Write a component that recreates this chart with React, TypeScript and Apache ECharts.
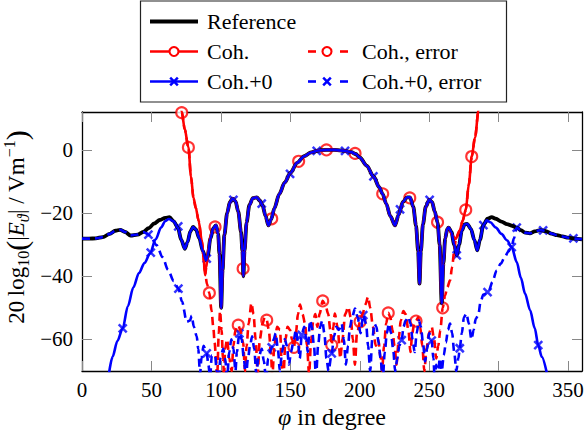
import React, { useEffect, useRef } from "react";
import * as echarts from "echarts";

const FONT = "Liberation Serif";

const xTicks = [0, 50, 100, 150, 200, 250, 300, 350];
const yTicks = [-60, -40, -20, 0];

// Reference (black) left part
const referenceLeft: number[][] = [
  [0, -28.1], [5, -28.1], [10, -28], [15, -27.6], [20, -26.6], [24, -25.6], [27.5, -25.3],
  [31, -26], [35, -27.1], [40, -26.8], [44, -26], [48, -24.8], [52, -23.3], [56, -22.2], [60, -21.5],
];

// Main lobe structure shared by Reference / Coh.+0 / Coh.
const mainLobe: number[][] = [
  [63, -21.3], [66, -22.6], [69, -24.6], [71.5, -28.5], [74, -31.3], [76, -29.2], [78, -25.8],
  [80, -24.4], [82, -25.2], [84.5, -28], [87, -32], [89.3, -35], [90.5, -33.5], [92.5, -28],
  [94.5, -24.8], [96.5, -23.9], [98, -26.5], [99, -33], [100.2, -50], [101.2, -38], [102.5, -27],
  [104.5, -20], [106.5, -16.5], [108.5, -15.4], [110.5, -16.2], [112.5, -19.5], [114.5, -26],
  [115.5, -32], [116.2, -40], [117, -32], [118.5, -23], [120.5, -17.5], [123, -15.3], [125.8, -15],
  [128, -16], [130, -17.6], [132.2, -21], [134.2, -23.9], [136.2, -22], [138.5, -18.5], [142, -14],
  [146, -10.3], [150, -7.3], [155, -4], [160, -2], [165, -0.8], [170, -0.2], [176, 0], [182, 0],
  [189, -0.3], [194, -0.7], [197, -1.3], [200, -2.4], [205, -5], [210, -8.5], [214, -11.8],
  [216.5, -14], [219, -17], [222, -21], [225.4, -23.9], [228, -20.5], [231, -16.5], [234, -15],
  [236.2, -15], [238.5, -18], [240.5, -24], [242, -32], [243, -42.3], [244, -32], [245.5, -23.5],
  [247.5, -18], [250, -15.8], [252, -16.5], [254, -19.5], [256, -23], [257.5, -30], [259, -48.6],
  [260.2, -36], [261.5, -28], [263, -25], [264, -24.6], [266, -26], [268, -30], [269.8, -33.4],
  [271.5, -30], [273.5, -25.5], [275.5, -23.6], [277.4, -23.4], [280, -25], [282.5, -28.5],
  [284.6, -31.8], [286.5, -28.5], [289, -23.8],
];

const referenceRight: number[][] = [
  [292, -21.8], [295, -21.3], [298, -21.8], [302, -22.7], [306, -23.5], [310, -24.1], [313, -24.6],
  [316, -25.4], [319, -26.2], [322.5, -26.4], [326, -25.8], [330, -25.4], [334, -25.7], [338, -26.5],
  [342, -27], [346, -27.4], [350, -27.8], [355, -28.1], [360, -28.3],
];

// Coh.+0 (blue solid)
const coh0Left: number[][] = [
  [19.5, -70.5], [22, -65.5], [25.5, -60.5], [29.3, -56.5], [33, -49.5], [37, -43.5], [41, -39],
  [45, -35.8], [49, -32.8], [53, -28.3], [57, -24.5], [60, -22.5], [62.5, -21.9],
];
const coh0Right: number[][] = [
  [291.4, -22.3], [294, -22.9], [298, -24.6], [302, -26.6], [306, -28.6], [309.4, -30.8],
  [313, -35.5], [316, -40.5], [319, -45.5], [322.6, -50.7], [326, -56.5], [328.5, -61.8],
  [331, -65.5], [334.6, -70.5],
];

// Coh. (red solid)
const cohLeft: number[][] = [
  [70.5, 16], [71.8, 12], [74, 6.5], [76.6, 0.8], [78.5, -8.5], [80.2, -15], [82, -18.5],
  [84, -22.5], [86.2, -28.6], [87.5, -34], [88.6, -39.7], [89.6, -37], [91, -31], [93, -26.5],
  [95.8, -24.4],
];
const cohRight: number[][] = [
  [266.5, -27], [269, -28.2], [272, -25.5], [274, -22.5], [276.3, -19], [278.5, -11],
  [280.6, -2.1], [283, 4], [285.5, 12.5], [287, 17],
];

// Coh., error (red dashed)
const cohError: number[][] = [
  [70.5, 16], [71.8, 12], [74, 6.5], [76.6, 0.8], [78.5, -8.5], [80.2, -15], [82, -18.5], [84, -22.5],
  [86.2, -28.6], [88.6, -38.5], [90, -42.5], [91.7, -45.3], [93.3, -51], [94.5, -56], [95.5, -61],
  [96.5, -66], [97.3, -72], [98.5, -58], [99.4, -51], [100.5, -57], [101.5, -66], [102.3, -72],
  [103, -63], [104.5, -60], [106, -66], [107.8, -70], [109, -62], [110.5, -57], [112.5, -55.5],
  [114, -57], [116, -61], [117.4, -70], [118.5, -62], [120, -55], [122, -48.5], [123.5, -52],
  [125, -60], [126.5, -71], [128, -60], [130, -55], [131.5, -53], [133, -53.9], [134.5, -57],
  [136, -64], [137, -72], [138.5, -62], [140.5, -56], [142.6, -57], [143.8, -68], [145, -72],
  [146.5, -60], [148, -56], [149.8, -57], [151.2, -60], [152.6, -62.5], [154, -58], [155.5, -52],
  [157, -49], [158.8, -52], [160.6, -55], [162, -62], [163.5, -71], [165, -60], [166.5, -54],
  [168, -52], [169.5, -56], [171, -52], [173.3, -47.8], [175.2, -49], [177.3, -52], [178.8, -57],
  [179.8, -61.8], [181, -56], [182, -51.8], [184, -56], [186, -66], [187.5, -60], [189.5, -52],
  [191.7, -49.7], [193.5, -53], [195, -60], [196.5, -68], [198, -58], [200.2, -54.4], [202, -52],
  [204, -49], [206, -46.5], [207.5, -50], [209.5, -56], [211.5, -62], [213.3, -60], [215, -66],
  [216, -70], [217.5, -62], [219, -55], [220.5, -51.6], [222, -53], [223.5, -57], [225, -62],
  [226.5, -68], [228, -60], [229.5, -54], [231.4, -51], [233, -52], [235, -57], [236.5, -64],
  [237.8, -58], [239.2, -55], [240.5, -54.2], [242, -53], [243.5, -56], [245, -62], [246.5, -70],
  [248, -63], [249.8, -58], [251.8, -56], [253.5, -60], [255, -66], [256.5, -62], [258, -57],
  [259.7, -50], [261.5, -46], [263, -43.5], [265, -41.3], [266.5, -37], [268, -32], [269.2, -28.1],
  [272, -25.5], [274, -22.5], [276.3, -19], [278.5, -11], [280.6, -2.1], [283, 4], [285.5, 12.5],
  [287, 17],
];

// Coh.+0, error (blue dashed) middle part
const coh0ErrorMid: number[][] = [
  [47.8, -26.8], [50, -28], [53.8, -30.2], [58, -34], [62, -38], [66, -41.5], [69.4, -43.9],
  [72, -48], [75.4, -54.4], [77.8, -54], [79, -52.5], [80.5, -56], [82.6, -59], [83.7, -63],
  [85, -71], [86, -66], [87.5, -62], [89.8, -64.4], [91, -68], [92.2, -72], [93.5, -65],
  [95.8, -65], [97, -70], [98.5, -73], [99.5, -66], [101.7, -63], [103, -66], [104.5, -72],
  [106, -64], [107.5, -60], [109, -63], [110.5, -70], [111.5, -64], [113.3, -58.1], [115, -60],
  [116.5, -66], [118, -72], [119.5, -66], [121, -62], [122.5, -59], [124, -63], [125.5, -71],
  [127, -66], [129.4, -63], [131, -67], [132.5, -73], [134, -66], [136.6, -62.5], [138, -60],
  [139.5, -58], [141, -63], [142.5, -70], [144, -64], [146, -60], [147.5, -62], [149, -68],
  [150.5, -64], [152.5, -60], [154, -57], [155.5, -61], [156.8, -66], [158.2, -58.6], [160, -56],
  [161.5, -60], [162.5, -64], [164.2, -54], [165.5, -56], [167, -62], [168.5, -72], [170, -62],
  [171.5, -56], [173, -54], [174.5, -58], [176, -66], [177.5, -70], [179.8, -64.4], [181.5, -59],
  [183, -56], [185, -57], [187, -55], [188.5, -60], [190, -68], [191.5, -62], [193, -56],
  [194.5, -53], [196.6, -50.2], [198.5, -53], [200.5, -58], [202.5, -52.3], [204.5, -55],
  [206, -62], [207.5, -70], [209, -60], [210.5, -55], [212, -56], [213.5, -61], [215, -66],
  [216.5, -73], [218, -64], [219.5, -58], [221, -55], [222.5, -58], [224, -63], [225.5, -70],
  [227, -66], [228.5, -62], [230.2, -60.2], [231.5, -56], [233, -54], [235, -52.9], [236.5, -55],
  [238, -60], [239.5, -64], [241, -58], [242.5, -54], [244, -56], [245.5, -61], [247, -67],
  [248.5, -63], [250, -58], [251.8, -60.4], [253, -66], [254, -73], [255, -68], [256.2, -74],
  [257.5, -66], [259, -70], [260.5, -65], [262, -61], [263.5, -57], [265, -55], [266.5, -58],
  [268, -64], [269.5, -70], [271, -66], [272, -62.8], [273.5, -58], [275, -53], [276.8, -51.8],
  [278.5, -55], [280.4, -60], [282, -57], [283.5, -53.5], [285.3, -52.3], [287, -48], [289, -45.8],
  [291, -45.5], [293, -44.5], [295.5, -41.8], [298.5, -38.2], [301.5, -36], [304.5, -33.8],
  [307, -32.2], [309.4, -30.5], [311, -28], [313, -24.6],
];

// Marker positions
const cohMarks: number[][] = [
  [71.8, 11.8], [76.6, 0.8], [95.8, -24.4], [116, -37.6], [136.6, -21.8], [156, -3.6], [176, 0],
  [196.6, -1.1], [216.5, -13.9], [236, -15.2], [256, -22.9], [276.3, -19], [280.6, -2.1],
];
const cohErrorMarks: number[][] = [
  [91.7, -45.3], [112.5, -55.5], [133, -53.9], [152.6, -62.5], [173.3, -47.8], [179.8, -61.8],
  [200.2, -54.4], [220.5, -51.6], [240.5, -54.2], [259.7, -50],
];
const coh0Marks: number[][] = [
  [29.3, -56.5], [49.5, -32.5], [69.3, -24.2], [89.8, -34.4], [109, -15.8], [129.4, -17],
  [149.8, -7.6], [169, -0.3], [189.4, -0.3], [209.8, -8.4], [229, -18.8], [250.3, -15.8],
  [269.8, -33.4], [289, -23.8], [309.4, -30.8], [328.5, -61.8],
];
const coh0ErrorMarks: number[][] = [
  [47.8, -26.8], [69.4, -43.9], [89.8, -64.4], [113.3, -58.1], [136.6, -62.5], [158.2, -58.6],
  [179.8, -64.4], [202.5, -52.3], [230.2, -60.2], [251.8, -60.4], [272, -62.8], [292, -45],
  [313, -24.6], [332, -25.5], [353.8, -28],
];

const legendLabels = ["Reference", "Coh.", "Coh., error", "Coh.+0", "Coh.+0, error"];

const RED = "#ff0000";
const BLUE = "#0000ff";
const BLACK = "#000000";
const CROSS = "path://M0,0L10,10M10,0L0,10";

const fmt = (v: number) => (v < 0 ? "\u2212" + Math.abs(v) : String(v));

export default function App() {
  const ref = useRef<HTMLDivElement>(null);

  useEffect(() => {
    if (!ref.current) return;
    const chart = echarts.init(ref.current, undefined, { renderer: "svg" });

    const reference = [...referenceLeft, ...mainLobe, ...referenceRight];
    const coh0 = [...coh0Left, ...mainLobe.filter((p) => p[0] >= 66), ...coh0Right];
    const coh = [
      ...cohLeft,
      ...mainLobe.filter((p) => p[0] >= 96.5 && p[0] <= 264),
      ...cohRight,
    ];
    const coh0Err = [
      ...referenceLeft.filter((p) => p[0] <= 44),
      ...coh0ErrorMid,
      ...referenceRight.filter((p) => p[0] >= 316),
    ];

    const LW = 2.6;
    const lineSeries = (data: number[][], color: string, width: number, dashed: boolean) => ({
      type: "line",
      data,
      showSymbol: false,
      symbol: "none",
      smooth: 0.3,
      smoothMonotone: "x",
      clip: true,
      lineStyle: { color, width, type: dashed ? [8, 5] : "solid", cap: "butt", join: "round" },
      emphasis: { disabled: true },
      silent: true,
    });
    const circleMarks = (data: number[][]) => ({
      type: "scatter",
      data,
      symbol: "circle",
      symbolSize: 11,
      clip: true,
      itemStyle: { color: "#ffffff", borderColor: RED, borderWidth: 2.1 },
      silent: true,
    });
    const crossMarks = (data: number[][]) => ({
      type: "scatter",
      data,
      symbol: CROSS,
      symbolSize: 8,
      clip: true,
      itemStyle: { color: BLUE, borderColor: BLUE, borderWidth: 2.5 },
      silent: true,
    });

    const axisCommon = {
      type: "value",
      axisLine: { show: true, onZero: false, lineStyle: { color: BLACK, width: 1.3 } },
      splitLine: { show: false },
    };

    const Z = 100;
    const legendText = (x: number, y: number, text: string) => ({
      type: "text",
      x,
      y,
      z: Z + 1,
      style: {
        text,
        fontFamily: FONT,
        fontSize: 22,
        fill: BLACK,
        align: "left",
        verticalAlign: "middle",
      },
    });
    const lineEl = (x1: number, y1: number, x2: number, y2: number, color: string, w: number) => ({
      type: "line",
      z: Z + 1,
      shape: { x1, y1, x2, y2 },
      style: { stroke: color, lineWidth: w },
    });
    const legendCircle = (cx: number, cy: number) => ({
      type: "circle",
      z: Z + 2,
      shape: { cx, cy, r: 4.5 },
      style: { fill: "#fff", stroke: RED, lineWidth: 2.1 },
    });
    const legendCross = (cx: number, cy: number) => [
      { ...lineEl(cx - 3.8, cy - 3.8, cx + 3.8, cy + 3.8, BLUE, 2.5), z: Z + 2 },
      { ...lineEl(cx - 3.8, cy + 3.8, cx + 3.8, cy - 3.8, BLUE, 2.5), z: Z + 2 },
    ];

    const r1 = 21.5, r2 = 51.5, r3 = 81.5;
    const tickLabel = {
      show: true,
      formatter: fmt,
      fontFamily: FONT,
      fontSize: 21,
      color: BLACK,
    };
    const tickStyle = (values: number[]) => ({
      show: true,
      inside: true,
      length: 10,
      customValues: values,
      lineStyle: { color: "#888", width: 1 },
    });

    chart.setOption({
      animation: false,
      backgroundColor: "#ffffff",
      textStyle: { fontFamily: FONT },
      grid: { left: 82, right: 4, top: 112, bottom: 65, containLabel: false, outerBoundsMode: "none" },
      xAxis: [
        {
          ...axisCommon,
          position: "bottom",
          min: 0,
          max: 360,
          axisTick: tickStyle(xTicks),
          axisLabel: { ...tickLabel, customValues: xTicks, margin: 8 },
        },
        {
          ...axisCommon,
          position: "top",
          min: 0,
          max: 360,
          axisTick: tickStyle(xTicks),
          axisLabel: { show: false },
        },
      ],
      yAxis: [
        {
          ...axisCommon,
          position: "left",
          min: -70,
          max: 12,
          axisTick: tickStyle(yTicks),
          axisLabel: { ...tickLabel, customValues: yTicks, margin: 9 },
        },
        {
          ...axisCommon,
          position: "right",
          min: -70,
          max: 12,
          axisTick: tickStyle(yTicks),
          axisLabel: { show: false },
        },
      ],
      series: [
        { name: legendLabels[0], ...lineSeries(reference, BLACK, 3.8, false) },
        { name: legendLabels[1], ...lineSeries(coh, RED, LW, false) },
        { name: "Coh. marks", ...circleMarks(cohMarks) },
        { name: legendLabels[2], ...lineSeries(cohError, RED, LW, true) },
        { name: "Coh., error marks", ...circleMarks(cohErrorMarks) },
        { name: legendLabels[3], ...lineSeries(coh0, BLUE, LW, false) },
        { name: "Coh.+0 marks", ...crossMarks(coh0Marks) },
        { name: legendLabels[4], ...lineSeries(coh0Err, BLUE, LW, true) },
        { name: "Coh.+0, error marks", ...crossMarks(coh0ErrorMarks) },
      ],
      graphic: [
        {
          type: "rect",
          z: Z,
          shape: { x: 140.5, y: 1, width: 366, height: 101 },
          style: { fill: "#ffffff", stroke: "#222", lineWidth: 1.2 },
        },
        lineEl(150, r1, 198, r1, BLACK, 3.8),
        legendText(207, r1, legendLabels[0]),
        lineEl(150, r2, 198, r2, RED, LW),
        legendCircle(174, r2),
        legendText(207, r2, legendLabels[1]),
        lineEl(308, r2, 316, r2, RED, LW),
        lineEl(340, r2, 348, r2, RED, LW),
        legendCircle(327, r2),
        legendText(362, r2, legendLabels[2]),
        lineEl(150, r3, 198, r3, BLUE, LW),
        ...legendCross(174, r3),
        legendText(207, r3, legendLabels[3]),
        lineEl(308, r3, 316, r3, BLUE, LW),
        lineEl(340, r3, 348, r3, BLUE, LW),
        ...legendCross(327, r3),
        legendText(362, r3, legendLabels[4]),
        {
          type: "text",
          x: 332,
          y: 417,
          z: Z,
          style: {
            text: "{i|\u03c6}{n| in degree}",
            align: "center",
            verticalAlign: "middle",
            rich: {
              i: { fontFamily: FONT, fontSize: 24, fontStyle: "italic", fill: BLACK },
              n: { fontFamily: FONT, fontSize: 24, fill: BLACK },
            },
          },
        },
        {
          type: "text",
          x: 16,
          y: 227,
          z: Z,
          rotation: Math.PI / 2,
          style: {
            text: "{n|20\u2009log}{s|10}{p|(}{n||}{i|E}{si|\u03d1}{n|| / Vm}{sup|\u22121}{p|)}",
            align: "center",
            verticalAlign: "middle",
            rich: {
              n: { fontFamily: FONT, fontSize: 23, lineHeight: 30, verticalAlign: "middle", fill: BLACK },
              i: { fontFamily: FONT, fontSize: 23, lineHeight: 30, fontStyle: "italic", verticalAlign: "middle", fill: BLACK },
              p: { fontFamily: FONT, fontSize: 30, lineHeight: 30, verticalAlign: "middle", fill: BLACK },
              s: { fontFamily: FONT, fontSize: 16, lineHeight: 15, verticalAlign: "bottom", fill: BLACK },
              si: { fontFamily: FONT, fontSize: 16, lineHeight: 15, fontStyle: "italic", verticalAlign: "bottom", fill: BLACK },
              sup: { fontFamily: FONT, fontSize: 16, lineHeight: 15, verticalAlign: "top", fill: BLACK },
            },
          },
        },
      ],
    });

    return () => {
      chart.dispose();
    };
  }, []);

  return (
    <div
      ref={ref}
      style={{ position: "fixed", left: 0, top: 0, width: 586, height: 436, background: "#fff" }}
    />
  );
}
